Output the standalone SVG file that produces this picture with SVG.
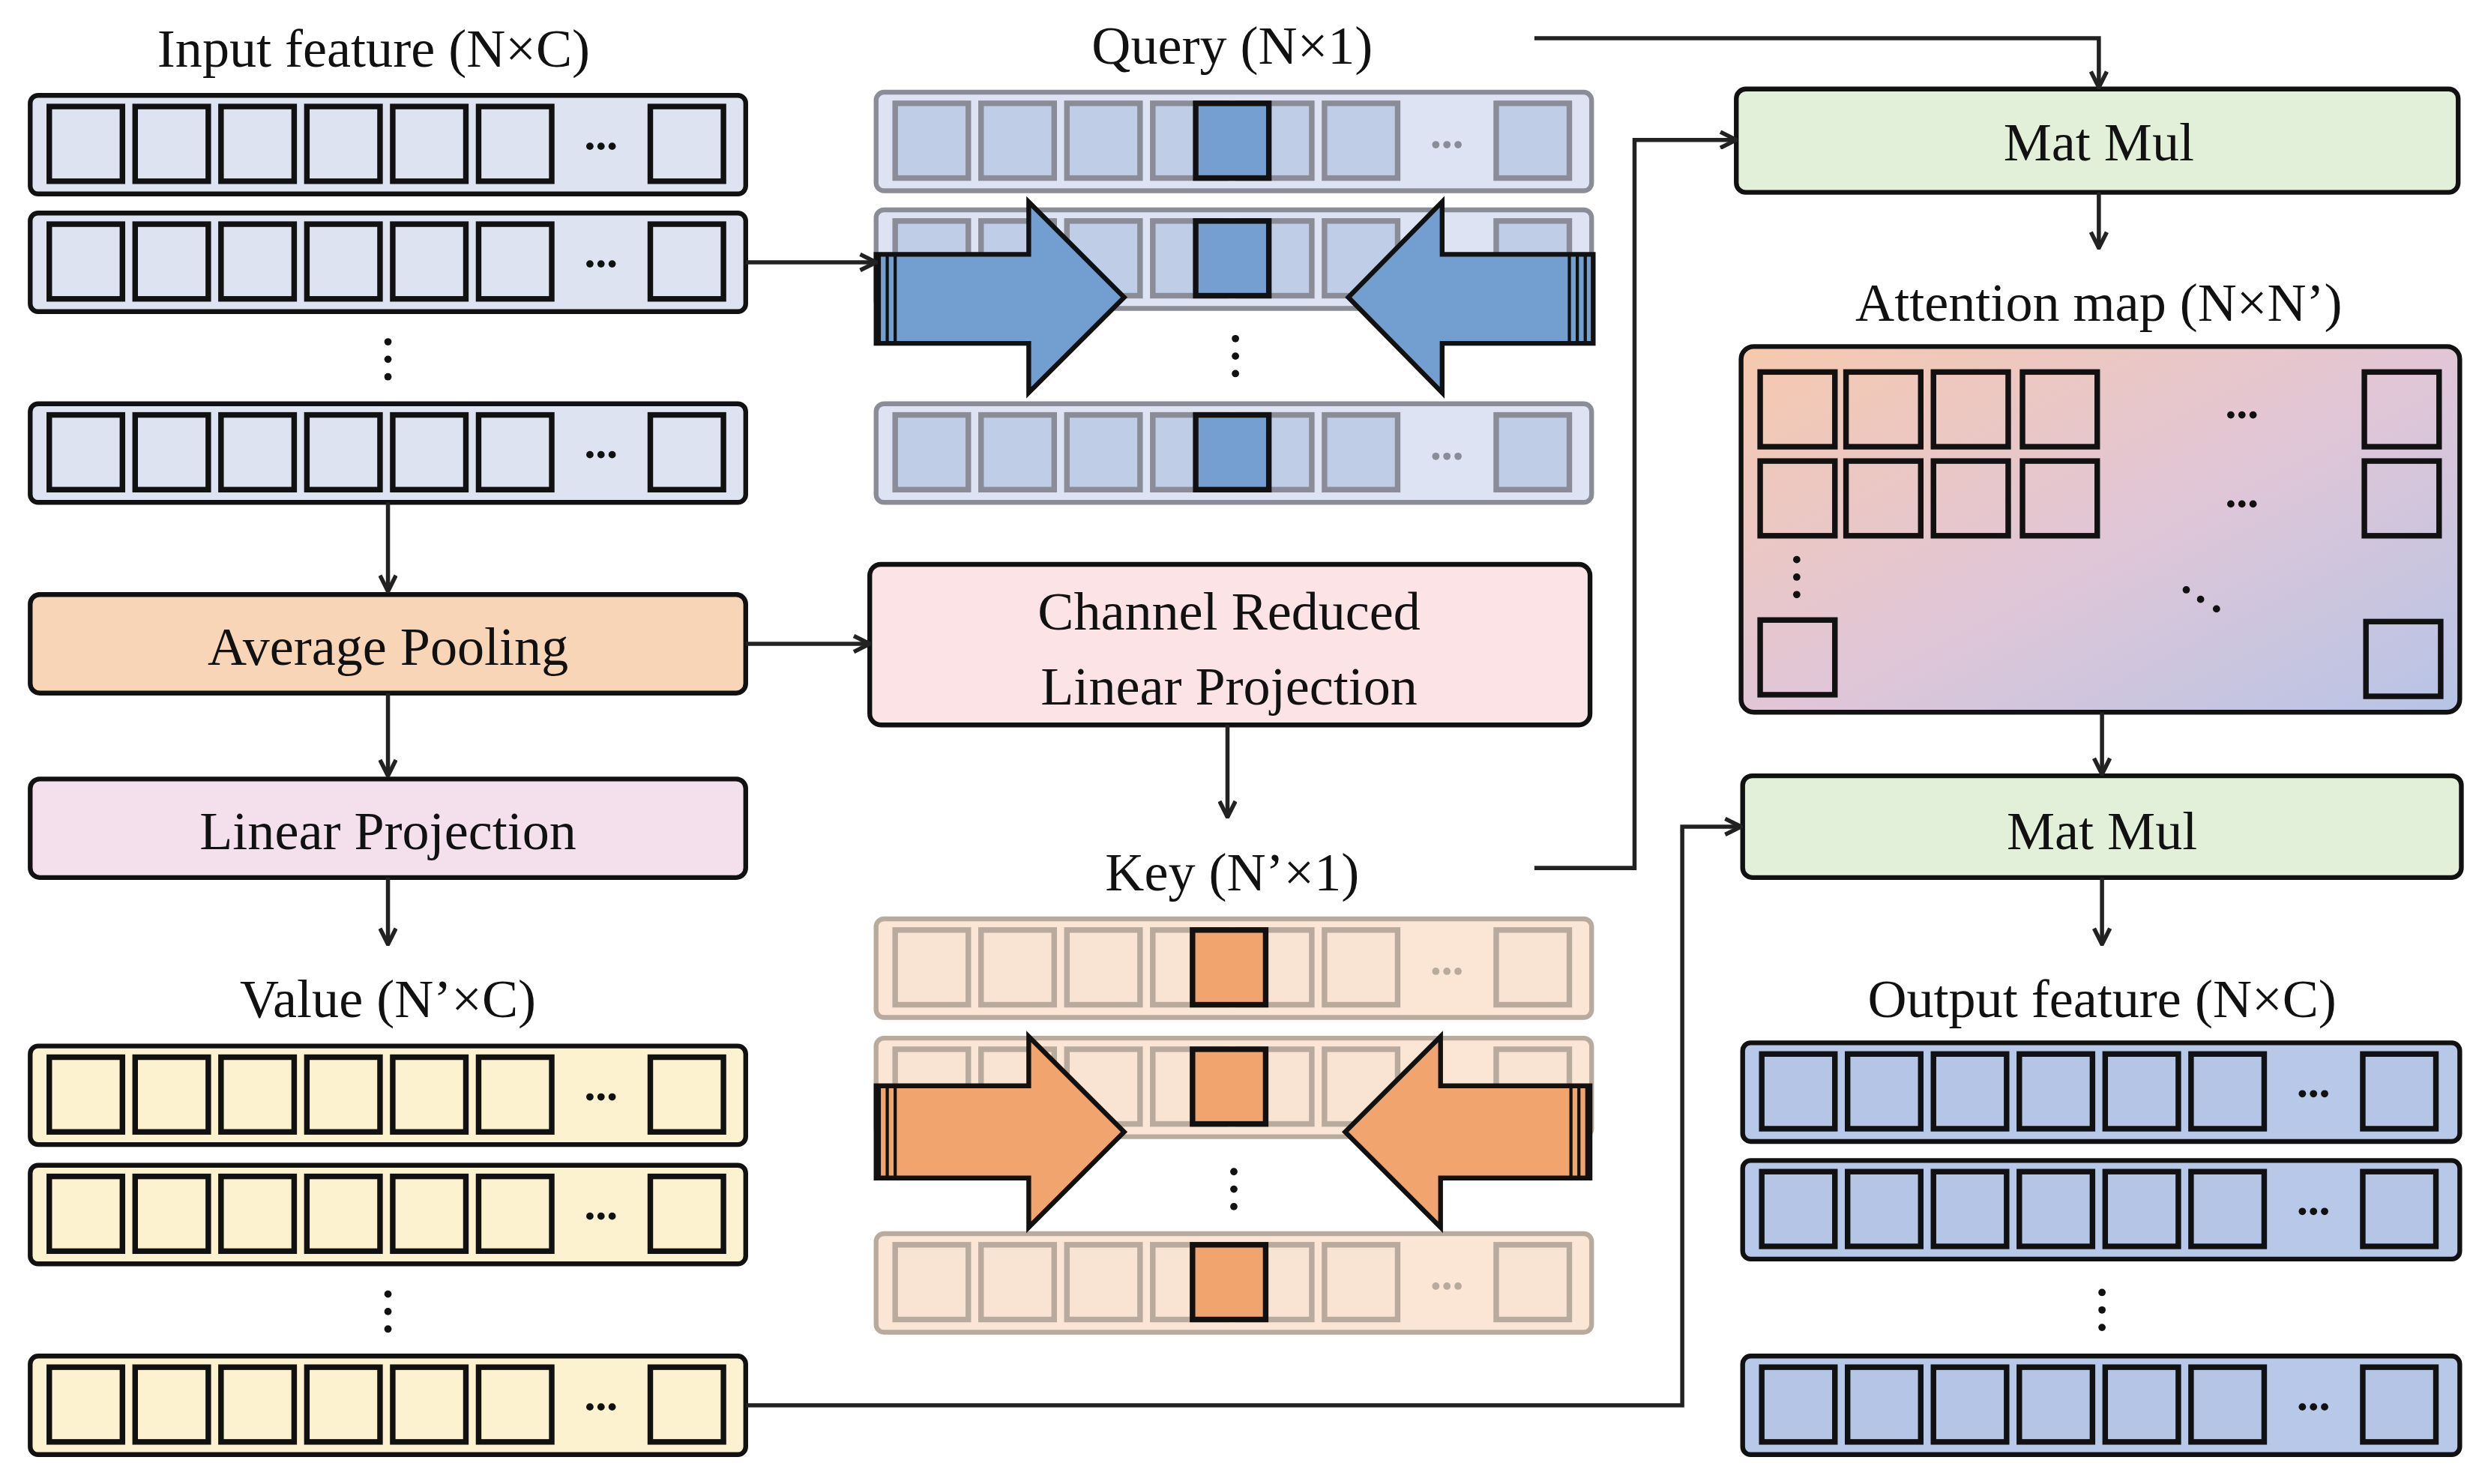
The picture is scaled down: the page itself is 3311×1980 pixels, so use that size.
<svg xmlns="http://www.w3.org/2000/svg" width="3311" height="1980" viewBox="0 0 3311 1980">
<style>
text{font-family:"Liberation Serif","Times New Roman",serif;fill:#111;text-anchor:middle}
.t{font-size:34px}
.o{stroke:#111;stroke-width:3}
.ln{fill:none;stroke:#222;stroke-width:2.6}
.bx{stroke:#111;stroke-width:3}
</style>
<defs>
<g id="cells">
<rect x="12" y="7" width="46" height="47"/><rect x="66" y="7" width="46" height="47"/><rect x="120" y="7" width="46" height="47"/><rect x="174" y="7" width="46" height="47"/><rect x="228" y="7" width="46" height="47"/><rect x="282" y="7" width="46" height="47"/><rect x="390" y="7" width="46" height="47"/>
</g>
<g id="hdots"><circle cx="-7" cy="0" r="2.3"/><circle cx="0" cy="0" r="2.3"/><circle cx="7" cy="0" r="2.3"/></g>
<g id="vdots"><circle cx="0" cy="0" r="2.3"/><circle cx="0" cy="11" r="2.3"/><circle cx="0" cy="22" r="2.3"/></g>
<marker id="ah" viewBox="0 0 12 12" refX="11" refY="6" markerWidth="12" markerHeight="12" markerUnits="userSpaceOnUse" orient="auto">
<path d="M1,1 L11,6 L1,11" fill="none" stroke="#222" stroke-width="2.6"/>
</marker>
<linearGradient id="grad" x1="0" y1="0" x2="1" y2="1">
<stop offset="0" stop-color="#f6c9ad"/><stop offset="0.5" stop-color="#e2c6d6"/><stop offset="1" stop-color="#b6c4e6"/>
</linearGradient>
</defs>
<rect width="3311" height="1980" fill="#fff"/>
<g transform="scale(2.1211)">

<g id="input">
<text class="t" x="235" y="42">Input feature (N×C)</text>
<g transform="translate(19,60)"><rect width="450" height="62" rx="5" fill="#dde3f1" class="o"/><use href="#cells" fill="#dde3f1" stroke="#111" stroke-width="3.5"/><use href="#hdots" x="359" y="32" fill="#111"/></g>
<g transform="translate(19,134)"><rect width="450" height="62" rx="5" fill="#dde3f1" class="o"/><use href="#cells" fill="#dde3f1" stroke="#111" stroke-width="3.5"/><use href="#hdots" x="359" y="32" fill="#111"/></g>
<use href="#vdots" x="244" y="215" fill="#111"/>
<g transform="translate(19,254)"><rect width="450" height="62" rx="5" fill="#dde3f1" class="o"/><use href="#cells" fill="#dde3f1" stroke="#111" stroke-width="3.5"/><use href="#hdots" x="359" y="32" fill="#111"/></g>
</g>

<g id="avgpool"><rect x="19" y="374" width="450" height="62" rx="6" fill="#f9d5b8" class="bx"/><text class="t" x="244" y="418">Average Pooling</text></g>
<g id="linproj"><rect x="19" y="490" width="450" height="62" rx="6" fill="#f3e0ec" class="bx"/><text class="t" x="244" y="534">Linear Projection</text></g>

<g id="value">
<text class="t" x="244" y="640">Value (N’×C)</text>
<g transform="translate(19,658)"><rect width="450" height="62" rx="5" fill="#fcf2cf" class="o"/><use href="#cells" fill="#fcf2cf" stroke="#111" stroke-width="3.5"/><use href="#hdots" x="359" y="32" fill="#111"/></g>
<g transform="translate(19,733)"><rect width="450" height="62" rx="5" fill="#fcf2cf" class="o"/><use href="#cells" fill="#fcf2cf" stroke="#111" stroke-width="3.5"/><use href="#hdots" x="359" y="32" fill="#111"/></g>
<use href="#vdots" x="244" y="814" fill="#111"/>
<g transform="translate(19,853)"><rect width="450" height="62" rx="5" fill="#fcf2cf" class="o"/><use href="#cells" fill="#fcf2cf" stroke="#111" stroke-width="3.5"/><use href="#hdots" x="359" y="32" fill="#111"/></g>
</g>

<g id="query">
<text class="t" x="775" y="40">Query (N×1)</text>
<g transform="translate(551,58)"><rect width="450" height="62" rx="5" fill="#dde3f2" stroke="#8a8c98" stroke-width="3"/><use href="#cells" fill="#c0cde6" stroke="#8a8c98" stroke-width="3.5"/><use href="#hdots" x="359" y="33" fill="#8a8c98"/><rect x="201" y="7" width="46" height="47" fill="#759fd0" stroke="#111" stroke-width="3.5"/></g>
<g transform="translate(551,132)"><rect width="450" height="62" rx="5" fill="#dde3f2" stroke="#8a8c98" stroke-width="3"/><use href="#cells" fill="#c0cde6" stroke="#8a8c98" stroke-width="3.5"/><rect x="201" y="7" width="46" height="47" fill="#759fd0" stroke="#111" stroke-width="3.5"/></g>
<use href="#vdots" x="777" y="213" fill="#111"/>
<g transform="translate(551,254)"><rect width="450" height="62" rx="5" fill="#dde3f2" stroke="#8a8c98" stroke-width="3"/><use href="#cells" fill="#c0cde6" stroke="#8a8c98" stroke-width="3.5"/><use href="#hdots" x="359" y="33" fill="#8a8c98"/><rect x="201" y="7" width="46" height="47" fill="#759fd0" stroke="#111" stroke-width="3.5"/></g>
<path d="M551,160 H647 V127 L707,187 L647,247 V216 H551 Z" fill="#739fd0" stroke="#111" stroke-width="3"/>
<path d="M1002,160 H907 V127 L848,187 L907,247 V216 H1002 Z" fill="#739fd0" stroke="#111" stroke-width="3"/>
<path d="M553,160 V216 M558,160 V216 M563,160 V216 M997,160 V216 M992,160 V216 M987,160 V216" stroke="#111" stroke-width="2"/>
</g>

<g id="crlp"><rect x="547" y="355" width="453" height="101" rx="7" fill="#fbe3e6" class="bx"/><text class="t" x="773" y="396">Channel Reduced</text><text class="t" x="773" y="443">Linear Projection</text></g>

<g id="key">
<text class="t" x="775" y="560">Key (N’×1)</text>
<g transform="translate(551,578)"><rect width="450" height="62" rx="5" fill="#fbe6d6" stroke="#b8aa9c" stroke-width="3"/><use href="#cells" fill="#f9e3d3" stroke="#b8aa9c" stroke-width="3.5"/><use href="#hdots" x="359" y="33" fill="#b8aa9c"/><rect x="199" y="7" width="46" height="47" fill="#f2a46e" stroke="#111" stroke-width="3.5"/></g>
<g transform="translate(551,653)"><rect width="450" height="62" rx="5" fill="#fbe6d6" stroke="#b8aa9c" stroke-width="3"/><use href="#cells" fill="#f9e3d3" stroke="#b8aa9c" stroke-width="3.5"/><rect x="199" y="7" width="46" height="47" fill="#f2a46e" stroke="#111" stroke-width="3.5"/></g>
<use href="#vdots" x="776" y="737" fill="#111"/>
<g transform="translate(551,776)"><rect width="450" height="62" rx="5" fill="#fbe6d6" stroke="#b8aa9c" stroke-width="3"/><use href="#cells" fill="#f9e3d3" stroke="#b8aa9c" stroke-width="3.5"/><use href="#hdots" x="359" y="33" fill="#b8aa9c"/><rect x="199" y="7" width="46" height="47" fill="#f2a46e" stroke="#111" stroke-width="3.5"/></g>
<path d="M551,683 H647 V652 L707,712 L647,772 V741 H551 Z" fill="#f2a46e" stroke="#111" stroke-width="3"/>
<path d="M1000,683 H906 V652 L846,712 L906,772 V741 H1000 Z" fill="#f2a46e" stroke="#111" stroke-width="3"/>
<path d="M553,683 V741 M558,683 V741 M563,683 V741 M998,683 V741 M993,683 V741 M988,683 V741" stroke="#111" stroke-width="2"/>
</g>

<g id="matmul1"><rect x="1092" y="56" width="454" height="65" rx="6" fill="#e2efd9" class="bx"/><text class="t" x="1320" y="101">Mat Mul</text></g>

<g id="attn">
<text class="t" x="1320" y="202">Attention map (N×N’)</text>
<rect x="1095" y="218" width="452" height="230" rx="8" fill="url(#grad)" class="bx"/>
<g fill="none" stroke="#111" stroke-width="3.5">
<rect x="1107" y="234" width="47" height="47"/><rect x="1161" y="234" width="47" height="47"/><rect x="1216" y="234" width="47" height="47"/><rect x="1272" y="234" width="47" height="47"/><rect x="1487" y="234" width="47" height="47"/>
<rect x="1107" y="290" width="47" height="47"/><rect x="1161" y="290" width="47" height="47"/><rect x="1216" y="290" width="47" height="47"/><rect x="1272" y="290" width="47" height="47"/><rect x="1487" y="290" width="47" height="47"/>
<rect x="1107" y="390" width="47" height="47"/><rect x="1488" y="391" width="47" height="47"/>
</g>
<use href="#hdots" x="1410" y="261" fill="#111"/><use href="#hdots" x="1410" y="317" fill="#111"/>
<use href="#vdots" x="1130" y="352" fill="#111"/>
<circle cx="1375" cy="371" r="2.3" fill="#111"/><circle cx="1384" cy="377" r="2.3" fill="#111"/><circle cx="1394" cy="383" r="2.3" fill="#111"/>
</g>

<g id="matmul2"><rect x="1096" y="488" width="452" height="64" rx="6" fill="#e2efd9" class="bx"/><text class="t" x="1322" y="534">Mat Mul</text></g>

<g id="output">
<text class="t" x="1322" y="640">Output feature (N×C)</text>
<g transform="translate(1096,656)"><rect width="451" height="62" rx="5" fill="#b8c8e8" class="o"/><use href="#cells" fill="#b4c5e6" stroke="#111" stroke-width="3.5"/><use href="#hdots" x="359" y="32" fill="#111"/></g>
<g transform="translate(1096,730)"><rect width="451" height="62" rx="5" fill="#b8c8e8" class="o"/><use href="#cells" fill="#b4c5e6" stroke="#111" stroke-width="3.5"/><use href="#hdots" x="359" y="32" fill="#111"/></g>
<use href="#vdots" x="1322" y="813" fill="#111"/>
<g transform="translate(1096,853)"><rect width="451" height="62" rx="5" fill="#b8c8e8" class="o"/><use href="#cells" fill="#b4c5e6" stroke="#111" stroke-width="3.5"/><use href="#hdots" x="359" y="32" fill="#111"/></g>
</g>

<g id="connectors">
<path class="ln" d="M469,165 H551" marker-end="url(#ah)"/>
<path class="ln" d="M244,316 V372" marker-end="url(#ah)"/>
<path class="ln" d="M244,436 V488" marker-end="url(#ah)"/>
<path class="ln" d="M244,552 V594" marker-end="url(#ah)"/>
<path class="ln" d="M469,405 H547" marker-end="url(#ah)"/>
<path class="ln" d="M772,456 V514" marker-end="url(#ah)"/>
<path class="ln" d="M965,24 H1320 V55" marker-end="url(#ah)"/>
<path class="ln" d="M965,546 H1028 V88 H1092" marker-end="url(#ah)"/>
<path class="ln" d="M1320,121 V156" marker-end="url(#ah)"/>
<path class="ln" d="M1322,448 V487" marker-end="url(#ah)"/>
<path class="ln" d="M1322,552 V594" marker-end="url(#ah)"/>
<path class="ln" d="M469,884 H1058 V520 H1095" marker-end="url(#ah)"/>
</g>
</g>
</svg>
